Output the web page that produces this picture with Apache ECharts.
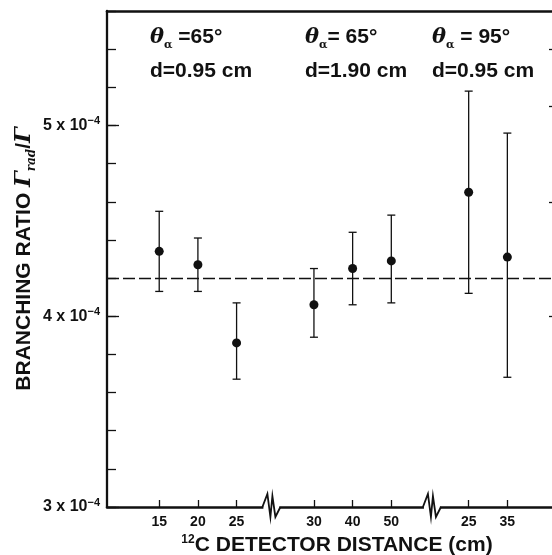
<!DOCTYPE html>
<html>
<head>
<meta charset="utf-8">
<style>
html, body { margin: 0; padding: 0; background: #fff; }
#main { width: 552px; height: 555px; }
</style>
<script src="https://cdn.jsdelivr.net/npm/echarts@6/dist/echarts.min.js"></script>
</head>
<body>
<div id="main"></div>
<script>
// branching ratio values, in units of 1e-4
var distLabels = ['15', '20', '25', '30', '40', '50', '25', '35'];
var slotPos = [1, 2, 3, 5, 6, 7, 9, 10];          // place on the broken axis
var ratio = [4.34, 4.27, 3.86, 4.06, 4.25, 4.29, 4.65, 4.31];
var ratioLow = [4.13, 4.13, 3.67, 3.89, 4.06, 4.07, 4.12, 3.68];
var ratioHigh = [4.55, 4.41, 4.07, 4.25, 4.44, 4.53, 5.18, 4.96];
var meanRatio = 4.2;
var yMajor = [3, 4, 5];
var rightTicks = [4.0, 4.6, 5.1, 5.4];
var breakPos = [3.9, 8.05];
var groupTheta = [' =65°', '= 65°', ' = 95°'];
var groupD = ['d=0.95 cm', 'd=1.90 cm', 'd=0.95 cm'];

(function () {
    var FONT = 'Liberation Sans';
    var INK = '#111';
    var obj = {
        init: function () {
            this.chart = echarts.init(document.getElementById('main'));
            this.chart.setOption(this.getOption());
            this.drawBreaks();
        },
        findLabel: function (v) {
            for (var i = 0; i < slotPos.length; i++) {
                if (Math.abs(slotPos[i] - v) < 1e-6) return distLabels[i];
            }
            return '';
        },
        getOption: function () {
            var self = this;
            var errData = slotPos.map(function (x, i) {
                return [x, ratioLow[i], ratioHigh[i]];
            });
            var ptData = slotPos.map(function (x, i) {
                return [x, ratio[i]];
            });
            var lefts = [150, 305, 432];
            var graphic = [];
            groupTheta.forEach(function (t, i) {
                graphic.push({
                    id: 'theta' + i, type: 'text', left: lefts[i], top: 27,
                    style: {
                        text: '{t|θ}{s|α}{n|' + t + '}',
                        fill: INK,
                        rich: {
                            t: { fontSize: 21, fontStyle: 'italic', fontWeight: 'bold', fontFamily: 'DejaVu Serif', lineHeight: 26 },
                            s: { fontSize: 11, fontWeight: 'bold', fontFamily: 'DejaVu Serif', verticalAlign: 'bottom', lineHeight: 26 },
                            n: { fontSize: 21, fontWeight: 'bold', fontFamily: FONT, lineHeight: 26 }
                        }
                    }
                });
                graphic.push({
                    id: 'd' + i, type: 'text', left: lefts[i], top: 61,
                    style: { text: groupD[i], fill: INK, font: 'bold 21px "Liberation Sans"' }
                });
            });
            return {
                backgroundColor: '#fff',
                animation: false,
                grid: { left: 107, top: 11, width: 446, height: 496, outerBoundsMode: 'none', containLabel: false },
                xAxis: [
                    {
                        type: 'value', min: -0.35, max: 11.18, position: 'bottom',
                        name: '{sup|12}{n|C DETECTOR DISTANCE (cm)}',
                        nameLocation: 'middle', nameGap: 24,
                        nameTextStyle: {
                            padding: [0, 0, 0, 14],
                            rich: {
                                sup: { fontSize: 12, fontWeight: 'bold', fontFamily: FONT, verticalAlign: 'top', lineHeight: 22, color: INK },
                                n: { fontSize: 21, fontWeight: 'bold', fontFamily: FONT, lineHeight: 22, color: INK }
                            }
                        },
                        axisLine: { onZero: false, lineStyle: { color: INK, width: 2.6 } },
                        axisTick: { inside: true, length: 7, customValues: slotPos, lineStyle: { color: INK, width: 1.3 } },
                        axisLabel: {
                            customValues: slotPos, margin: 8,
                            color: INK, fontSize: 14, fontWeight: 'bold', fontFamily: FONT,
                            formatter: function (v) { return self.findLabel(v); }
                        },
                        splitLine: { show: false }
                    },
                    {
                        type: 'value', min: -0.35, max: 11.18, position: 'top',
                        axisLine: { onZero: false, lineStyle: { color: INK, width: 2.6 } },
                        axisTick: { show: false }, axisLabel: { show: false }, splitLine: { show: false }
                    }
                ],
                yAxis: [
                    {
                        type: 'value', min: 3, max: 5.6, interval: 0.2, position: 'left',
                        name: '{n|BRANCHING RATIO }{g|Γ}{s|rad}{n|/}{g|Γ}',
                        nameLocation: 'middle', nameGap: 69, nameMoveOverlap: false,
                        nameTextStyle: {
                            rich: {
                                n: { fontSize: 21, fontWeight: 'bold', fontFamily: FONT, color: INK, lineHeight: 28 },
                                g: { fontSize: 22, fontStyle: 'italic', fontWeight: 'bold', fontFamily: 'DejaVu Serif', color: INK, lineHeight: 28 },
                                s: { fontSize: 12, fontStyle: 'italic', fontWeight: 'bold', fontFamily: 'DejaVu Serif', color: INK, verticalAlign: 'bottom', lineHeight: 28 }
                            }
                        },
                        axisLine: { show: true, onZero: false, lineStyle: { color: INK, width: 2.3 } },
                        axisTick: { inside: true, length: 9, lineStyle: { color: INK, width: 1.3 } },
                        axisLabel: {
                            margin: 7,
                            formatter: function (v) {
                                if (Math.abs(v - Math.round(v)) > 1e-6) return '';
                                return '{n|' + Math.round(v) + ' x 10}{e|−4}';
                            },
                            rich: {
                                n: { fontSize: 16, fontWeight: 'bold', fontFamily: FONT, color: INK, lineHeight: 20 },
                                e: { fontSize: 11, fontWeight: 'bold', fontFamily: FONT, color: INK, verticalAlign: 'top', lineHeight: 20 }
                            }
                        },
                        splitLine: { show: false }
                    },
                    {
                        type: 'value', min: 3, max: 5.6, position: 'left',
                        axisLine: { show: false, onZero: false }, axisLabel: { show: false }, splitLine: { show: false },
                        axisTick: { inside: true, length: 12, customValues: yMajor, lineStyle: { color: INK, width: 1.3 } }
                    },
                    {
                        type: 'value', min: 3, max: 5.6, position: 'right',
                        axisLine: { show: false, onZero: false }, axisLabel: { show: false }, splitLine: { show: false },
                        axisTick: { inside: true, length: 4, customValues: rightTicks, lineStyle: { color: INK, width: 1.3 } }
                    }
                ],
                series: [
                    {
                        type: 'custom',
                        data: errData,
                        encode: { x: 0, y: [1, 2] },
                        renderItem: function (params, api) {
                            var x = api.value(0);
                            var lo = api.coord([x, api.value(1)]);
                            var hi = api.coord([x, api.value(2)]);
                            var w = 4;
                            var st = { stroke: INK, lineWidth: 1.3 };
                            return {
                                type: 'group',
                                children: [
                                    { type: 'line', shape: { x1: lo[0], y1: lo[1], x2: hi[0], y2: hi[1] }, style: st },
                                    { type: 'line', shape: { x1: lo[0] - w, y1: lo[1], x2: lo[0] + w, y2: lo[1] }, style: st },
                                    { type: 'line', shape: { x1: hi[0] - w, y1: hi[1], x2: hi[0] + w, y2: hi[1] }, style: st }
                                ]
                            };
                        },
                        z: 3
                    },
                    {
                        type: 'scatter',
                        data: ptData,
                        symbol: 'circle',
                        symbolSize: 9,
                        itemStyle: { color: INK, opacity: 1 },
                        z: 4,
                        markLine: {
                            silent: true,
                            symbol: 'none',
                            label: { show: false },
                            lineStyle: { color: INK, width: 1.3, type: [12, 4] },
                            data: [{ yAxis: meanRatio }]
                        }
                    }
                ],
                graphic: graphic
            };
        },
        drawBreaks: function () {
            var chart = this.chart;
            var zig = [[-9, 0], [-4, -13], [-1, 10], [1, -11], [4, 10], [9, 0]];
            var els = [];
            breakPos.forEach(function (b, i) {
                var c = chart.convertToPixel({ xAxisIndex: 0, yAxisIndex: 0 }, [b, 3]);
                els.push({
                    id: 'gap' + i, type: 'rect', z: 100,
                    shape: { x: c[0] - 8, y: c[1] - 3, width: 16, height: 6 },
                    style: { fill: '#fff' }
                });
                els.push({
                    id: 'zig' + i, type: 'polyline', z: 101,
                    shape: { points: zig.map(function (p) { return [c[0] + p[0], c[1] + p[1]]; }) },
                    style: { stroke: INK, lineWidth: 1.8, fill: null }
                });
            });
            chart.setOption({ graphic: els });
        }
    };
    obj.init();
})();
</script>
</body>
</html>
